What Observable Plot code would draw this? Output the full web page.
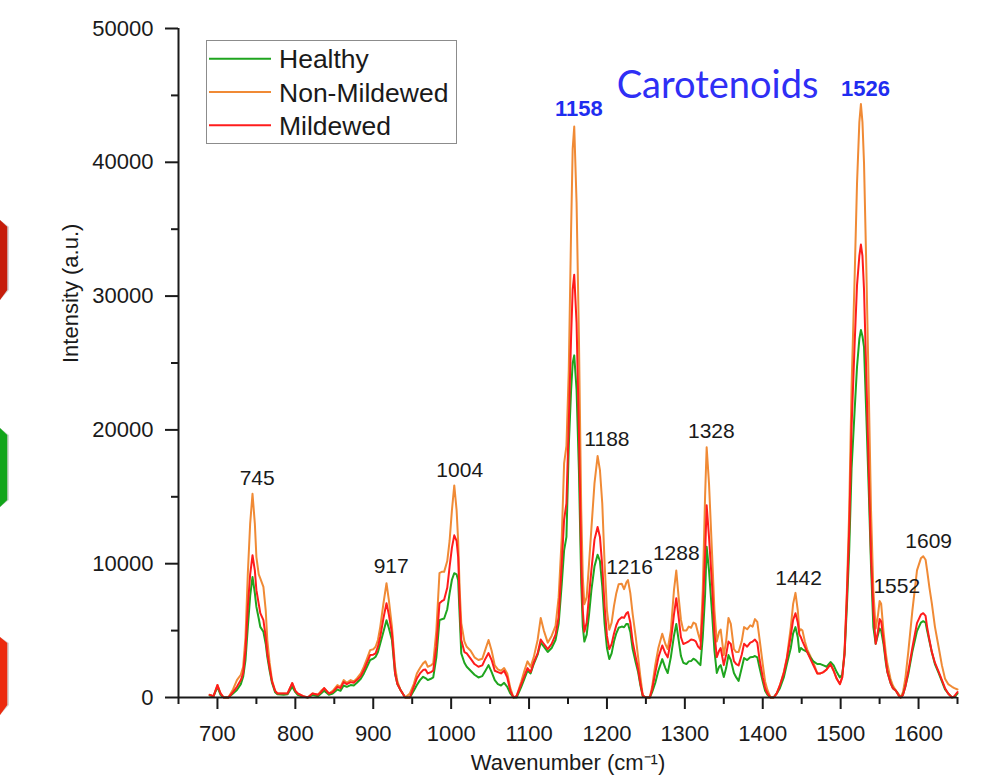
<!DOCTYPE html>
<html>
<head>
<meta charset="utf-8">
<script src="https://cdn.jsdelivr.net/npm/d3@7"></script>
<script src="https://cdn.jsdelivr.net/npm/@observablehq/plot@0.6"></script>
<style>
  html, body { margin: 0; padding: 0; background: #fff; }
  #wrap { position: relative; width: 1000px; height: 777px; overflow: hidden; font-family: "Liberation Sans", Arial, sans-serif; }
  #chart { position: absolute; left: 0; top: 0; }
  #hex { position: absolute; left: 0; top: 0; }
  #legend { position: absolute; left: 206px; top: 40px; }
</style>
</head>
<body>
<div id="wrap">
  <div id="chart"></div>
  <svg id="hex" width="20" height="777"></svg>
  <svg id="legend" width="252" height="105"></svg>
</div>
<script>
// ---------------- data ----------------
const wavenumber = [690,695,700,704,708,714,720,725,730,733,736,739,742,745,748,750,753,755,759,762,764,767,770,774,777,785,790,796,800,803,810,816,822,829,833,837,843,848,854,858,862,866,871,875,879,884,888,892,896,900,903,906,909,913,917,920,924,928,931,935,941,947,952,956,960,964,967,970,974,977,981,985,988,991,995,998,1001,1004,1007,1009,1011,1013,1017,1020,1025,1030,1035,1040,1044,1048,1052,1056,1060,1064,1068,1072,1076,1080,1084,1090,1094,1098,1102,1106,1111,1115,1119,1124,1129,1134,1138,1142,1145,1148,1151,1154,1156,1158,1161,1164,1167,1169,1171,1174,1177,1180,1184,1188,1191,1194,1197,1200,1203,1206,1209,1212,1215,1219,1222,1225,1227,1230,1233,1237,1240,1243,1246,1250,1255,1258,1262,1266,1271,1275,1278,1282,1286,1289,1292,1295,1298,1302,1305,1308,1311,1314,1317,1320,1323,1326,1328,1331,1335,1338,1341,1344,1346,1350,1353,1356,1359,1363,1366,1369,1373,1376,1380,1384,1387,1390,1393,1396,1400,1403,1406,1410,1414,1418,1422,1427,1431,1436,1439,1442,1445,1447,1449,1451,1454,1457,1461,1465,1470,1474,1478,1482,1487,1491,1495,1499,1502,1505,1508,1511,1514,1518,1521,1524,1526,1528,1530,1533,1536,1539,1542,1545,1548,1550,1552,1555,1558,1560,1564,1567,1571,1574,1577,1580,1583,1587,1592,1598,1603,1606,1609,1611,1614,1617,1621,1626,1630,1634,1638,1643,1646,1650];

const nonMildewed = [200,100,930,300,0,0,600,1300,1700,2300,4500,9290,13000,15230,13000,10500,9200,8900,8270,6500,4290,2600,1300,500,300,300,300,1080,500,300,100,0,300,200,500,700,300,500,930,800,1300,1100,1300,1200,1430,1800,2300,2900,3540,3600,3790,4300,5280,7000,8540,7300,5280,2300,1200,560,0,300,1000,1800,2200,2550,2700,2300,2400,2550,5000,9290,9400,9390,10200,11700,14000,15850,14000,11700,8000,5560,4200,3790,3500,3000,2800,2900,3600,4300,3500,2400,2100,2000,2200,1800,700,0,100,1200,2000,2700,2300,3000,4300,5950,5000,4100,4600,5360,7500,12000,17500,18800,24500,35000,41000,42670,37000,27000,14000,9000,6970,7500,10000,12600,16000,18050,17000,14500,10000,6500,5070,5600,6830,7800,8460,8500,8100,8600,8770,7800,6240,4500,3020,1500,150,0,0,800,2420,3700,4770,4000,3620,5000,8000,9490,7500,5800,5000,5000,5300,5210,5600,5500,4800,4180,8000,15100,18700,16000,10670,6500,4180,4900,5070,3170,4200,5950,5500,3620,3400,3400,4200,5260,5100,5400,5300,5860,5650,4320,2500,1200,560,0,0,300,900,1900,3000,5260,7000,7820,6500,4960,5100,5000,4200,3600,3100,2600,1800,1800,1900,2100,2500,2000,1400,1000,1500,3500,7970,14000,23200,31500,38400,43000,44360,43000,39950,32000,23200,14000,7970,5150,6200,7210,7000,4960,3300,2500,1400,900,500,300,0,400,1400,3500,6450,9500,10400,10560,10300,9500,8200,7050,5300,3700,2400,1400,1000,800,700,600];

const mildewed = [200,100,930,300,0,0,400,800,1300,1800,3500,6770,9200,10630,9500,8020,7000,6300,5780,4500,3300,2200,1200,500,300,300,300,1080,500,300,100,0,300,200,400,700,300,400,800,700,1150,1000,1150,1100,1300,1600,2050,2600,3170,3200,3300,3800,4540,5900,7050,6200,4790,1800,1000,560,0,0,800,1420,1800,2050,2100,1800,1900,2000,3800,7050,7200,7300,8200,9760,11200,12120,11700,10500,7000,4290,3400,3300,2900,2500,2300,2400,2900,3320,2800,2000,1900,1800,2000,1500,500,0,100,1000,1600,2200,1900,2600,3300,4330,4000,3620,4000,4700,6000,10000,13300,14500,20500,27000,30500,31600,28000,20000,10000,6500,4910,5600,7600,9500,11800,12740,12000,9800,6800,4600,3620,4000,4770,5400,5800,6000,5950,6300,6380,5600,4180,3000,2130,1000,150,0,0,600,1830,3000,3890,3300,3000,4200,6200,7420,6000,4500,4000,4100,4200,4330,4300,4200,3800,3620,6500,10670,14360,12000,8320,4800,3020,3500,3700,2420,3200,4180,4000,2720,2500,2400,3200,4010,3800,4100,4180,4330,4100,2800,1500,700,300,0,0,300,900,1800,2900,4660,5800,6300,5600,4700,4500,4200,3800,3410,2900,2400,1800,1800,1900,2100,2500,2000,1400,1000,1500,3300,7500,12500,20180,26500,30800,33000,33850,33000,30500,24000,17100,10500,6450,4010,5000,5860,5700,4300,2800,1900,1100,700,500,200,0,200,800,2000,3700,5560,6200,6300,6100,5260,4300,3410,2600,1900,1300,700,300,0,100,400];

const healthy = [150,100,800,200,0,0,300,560,1000,1550,2800,5280,7600,9010,7800,6770,5900,5280,4910,4000,3040,2000,1100,400,250,200,250,800,400,200,50,0,200,100,300,500,200,300,600,500,900,800,930,900,1100,1400,1800,2300,2800,2900,3040,3400,4040,4900,5780,5200,4290,1800,1000,560,0,0,500,930,1300,1550,1450,1300,1400,1500,3000,5780,5850,5900,6600,7780,8800,9290,9200,8770,6000,3300,2600,2300,2000,1700,1500,1600,2000,2420,1900,1300,1000,900,1100,800,300,0,0,800,1400,2000,1800,2500,3200,4100,3800,3400,3700,4300,5500,8500,11000,12000,18800,23000,25000,25570,23000,17000,8500,5300,4180,4700,6200,8000,9800,10670,10200,8300,5500,3700,2870,3300,4180,4800,5210,5300,5250,5500,5500,4900,3620,2600,1900,900,100,0,0,400,1080,2000,2870,2200,1830,3000,4600,5500,4300,3100,2600,2500,2700,2720,2900,2800,2600,2420,4500,7720,11260,9500,6240,3500,1830,2300,2420,1530,2200,3170,2800,1830,1500,1240,2200,2950,2800,3000,3020,3100,3000,2200,1200,500,200,0,0,300,700,1500,2500,3700,4800,5260,4500,3400,3700,3600,3500,3410,3000,2700,2500,2500,2400,2300,2650,2400,1900,1500,1700,3200,6800,11000,17100,21500,24700,26800,27460,27000,26200,21000,15600,9800,5260,4010,4700,5150,5000,4000,2600,1900,1100,700,500,200,0,200,800,1800,3410,4960,5600,5700,5600,5000,4200,3400,2500,1800,1200,600,300,0,50,300];

const seriesNames = ["Healthy", "Non-Mildewed", "Mildewed"];
const seriesColors = ["#1fa51f", "#f08a35", "#ff1c1c"];

const xTicks = [700,800,900,1000,1100,1200,1300,1400,1500,1600];
const xMinorTicks = [650,750,850,950,1050,1150,1250,1350,1450,1550,1650];
const yTicks = [0,10000,20000,30000,40000,50000];
const yMinorTicks = [5000,15000,25000,35000,45000];

// peak annotations: label, anchor x (wavenumber), anchor y (intensity)
const peakLabels = ["745","917","1004","1188","1216","1288","1328","1442","1552","1609"];
const peakLabelX = [751,923,1011,1200,1229,1289,1334,1446,1572,1613];
const peakLabelY = [15850,9290,16450,18780,9210,10260,19360,8430,7830,11170];
const carotenoidLabels = ["1158","1526"];
const carotenoidLabelX = [1164,1532];
const carotenoidLabelY = [43450,44950];
const titleText = "Carotenoids";

// ---------------- build ----------------
const mk = (vals) => wavenumber.map((w, i) => ({w, v: vals[i]}));
const healthyRows = mk(healthy), nonRows = mk(nonMildewed), milRows = mk(mildewed);
const peaks = peakLabels.map((t, i) => ({t, x: peakLabelX[i], y: peakLabelY[i]}));
const caro = carotenoidLabels.map((t, i) => ({t, x: carotenoidLabelX[i], y: carotenoidLabelY[i]}));

const ink = "#1a1a1a";
const chart = Plot.plot({
  width: 1000,
  height: 777,
  marginLeft: 178,
  marginRight: 43,
  marginTop: 28,
  marginBottom: 80,
  style: {fontFamily: "'Liberation Sans', Arial, sans-serif", fontSize: "22px", color: ink, background: "transparent", overflow: "visible"},
  x: {domain: [650, 1650]},
  y: {domain: [0, 50000]},
  marks: [
    Plot.line(nonRows, {x: "w", y: "v", stroke: seriesColors[1], strokeWidth: 2}),
    Plot.line(healthyRows, {x: "w", y: "v", stroke: seriesColors[0], strokeWidth: 2}),
    Plot.line(milRows, {x: "w", y: "v", stroke: seriesColors[2], strokeWidth: 2}),
    Plot.ruleX([650], {y1: 0, y2: 50000, stroke: ink, strokeWidth: 2}),
    Plot.ruleY([0], {x1: 650, x2: 1650, stroke: ink, strokeWidth: 2}),
    Plot.axisX(xTicks, {tickSize: 12, tickPadding: 16, strokeWidth: 2, fontSize: 22, tickFormat: d => String(d), label: null, fill: ink, stroke: ink}),
    Plot.axisX(xMinorTicks, {tickSize: 7, strokeWidth: 2, tickFormat: () => "", label: null, stroke: ink}),
    Plot.axisY(yTicks, {tickSize: 13, tickPadding: 12, strokeWidth: 2, fontSize: 22, tickFormat: d => String(d), label: null, fill: ink, stroke: ink}),
    Plot.axisY(yMinorTicks, {tickSize: 7, strokeWidth: 2, tickFormat: () => "", label: null, stroke: ink}),
    Plot.text(["Intensity (a.u.)"], {frameAnchor: "left", dx: -108, rotate: -90, fontSize: 22, fill: ink}),
    Plot.text(["Wavenumber (cm⁻¹)"], {frameAnchor: "bottom", dy: 72, fontSize: 22, fill: ink, lineAnchor: "bottom"}),
    Plot.text(peaks, {x: "x", y: "y", text: "t", lineAnchor: "bottom", fontSize: 21, fill: ink}),
    Plot.text(caro, {x: "x", y: "y", text: "t", lineAnchor: "bottom", fontSize: 22, fontWeight: "bold", fill: "#1f2df0"}),
    Plot.text([titleText], {x: [1342], y: [44820], lineAnchor: "bottom", fontSize: 38, fontFamily: "Lato, 'Open Sans', sans-serif", fill: "#2f2ff5"})
  ]
});
document.getElementById("chart").appendChild(chart);

// ---------------- legend ----------------
const leg = d3.select("#legend");
leg.append("rect").attr("x", 0.5).attr("y", 0.5).attr("width", 250).attr("height", 103)
  .attr("fill", "#fff").attr("stroke", "#8c8c8c").attr("stroke-width", 1);
seriesNames.forEach((name, i) => {
  const cy = 18.7 + i * 33.3;
  leg.append("line").attr("x1", 3).attr("x2", 65).attr("y1", cy).attr("y2", cy)
    .attr("stroke", seriesColors[i]).attr("stroke-width", 2);
  leg.append("text").attr("x", 73).attr("y", cy).attr("dy", "0.36em")
    .attr("font-family", "'Liberation Sans', Arial, sans-serif").attr("font-size", 26.5)
    .attr("fill", ink).text(name);
});

// ---------------- decorative hexagon edges ----------------
const hexes = [
  {top: 220, y1: 226.7, y2: 290, bot: 300, fill: "#c61d0b"},
  {top: 428, y1: 435, y2: 500, bot: 507, fill: "#12a51a"},
  {top: 637, y1: 643, y2: 705, bot: 715, fill: "#ec2a0e"}
];
const hx = d3.select("#hex");
hexes.forEach(h => {
  const pts = `0,${h.top} 7.3,${h.y1} 7.3,${h.y2} 0,${h.bot}`;
  hx.append("polygon").attr("points", pts.replace(/7\.3/g, "9")).attr("fill", "#bbb").attr("opacity", 0.6);
  hx.append("polygon").attr("points", pts).attr("fill", h.fill);
});
</script>
</body>
</html>
